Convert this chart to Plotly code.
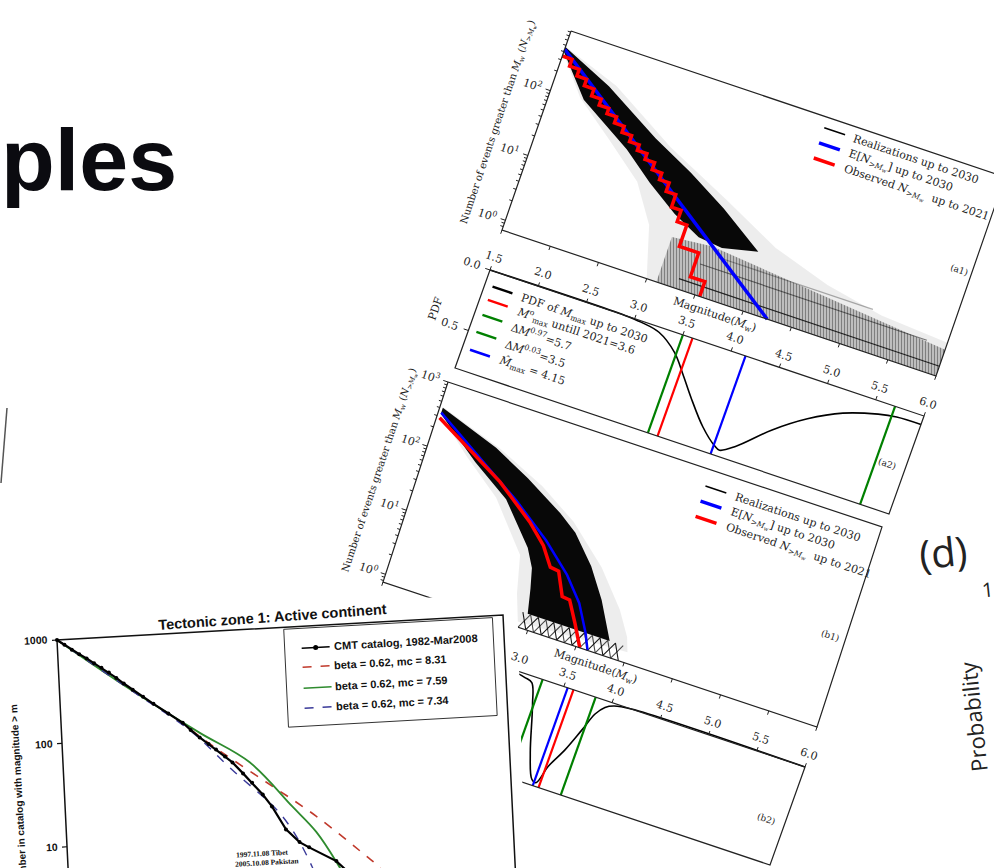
import math
import numpy as np
import plotly.graph_objects as go

CANVAS_W, CANVAS_H = 994, 868
SERIF = "DejaVu Serif"
SANS = "Liberation Sans"
TXT = "#222222"
AXC = "#222222"

# ---------------------------------------------------------------- shared magnitude axis
MAG_RANGE = [1.5, 6.0]
MAG_TICKS = [1.5, 2.0, 2.5, 3.0, 3.5, 4.0, 4.5, 5.0, 5.5, 6.0]

# ---------------------------------------------------------------- (a1) cumulative counts
A1_LOG = [2.92, -0.15]                       # log10 N at top / bottom edge
a1_expected_m = [1.5, 4.25]
a1_expected_n = [436, 0.708]
a1_obs_edges = [1.5, 1.6, 1.7, 1.8, 1.9, 2.0, 2.1, 2.2, 2.3, 2.4, 2.5, 2.6, 2.7,
                2.8, 2.9, 3.0, 3.1, 3.2, 3.4]
a1_obs_n = [342, 268, 212, 168, 132, 106, 88, 71, 57, 46, 38, 31, 24, 19, 14, 9,
            6, 2.8, 1.2]
a1_obs_last = 3.55
a1_core_up_m = [1.5, 2.03, 2.63, 3.07, 3.49, 3.77, 3.95]
a1_core_up_n = [470, 215, 68, 33, 15, 8, 5.5]
a1_core_lo_m = [1.5, 1.84, 2.40, 2.72, 3.05, 3.35, 3.6]
a1_core_lo_n = [400, 107, 35, 15.5, 7.5, 4.6, 4.2]
a1_halo_up_m = [1.5, 2.1, 2.8, 3.5, 4.1, 4.7, 5.3, 6.0]
a1_halo_up_n = [480, 235, 60, 20, 7.5, 4.0, 2.7, 2.3]
a1_halo_lo_m = [1.5, 1.8, 2.2, 2.6, 2.85, 3.0]
a1_halo_lo_n = [380, 110, 40, 14, 4, 0.708]
a1_band_top_m = [3.1, 3.5, 4.0, 4.5, 5.0, 5.5, 6.0]
a1_band_top_n = [3.5, 4.0, 3.4, 2.9, 2.5, 2.1, 1.8]
a1_rows_n = [1, 2, 3]
a1_rows_start = [3.3, 3.45, 3.6]
a1_rows_end = [6.0, 5.8, 5.2]

# ---------------------------------------------------------------- (a2) PDF of Mmax
A2_PDF = [0.0, 0.81]
a2_pdf_m = [1.5, 2.9, 3.07, 3.27, 3.48, 3.63, 3.78, 3.99, 4.16, 4.22, 4.36, 4.64,
            4.93, 5.24, 5.57, 5.75, 6.0]
a2_pdf_v = [0, 0, 0.01, 0.04, 0.15, 0.29, 0.44, 0.63, 0.74, 0.76, 0.69, 0.48,
            0.31, 0.18, 0.10, 0.075, 0.07]
a2_mobs, a2_q97, a2_q03, a2_mhat = 3.6, 5.7, 3.5, 4.15

# ---------------------------------------------------------------- (b1) cumulative counts
B1_LOG = [3.0, -0.12]
b1_expected_m = [1.53, 2.0, 2.5, 2.9, 3.2, 3.4, 3.55, 3.62]
b1_expected_n = [344, 130, 45, 17, 7, 3.2, 1.3, 0.76]
b1_obs_m = [1.53, 2.08, 2.29, 2.69, 2.89, 3.02, 3.11, 3.22, 3.30, 3.42, 3.54]
b1_obs_n = [287, 100, 69, 26, 14, 7.5, 7.2, 3.3, 3.2, 1.6, 0.76]
b1_core_up_m = [1.53, 2.15, 2.54, 2.95, 3.15, 3.4, 3.6, 3.72, 3.8]
b1_core_up_n = [410, 200, 105, 48, 30, 12, 4.5, 2.2, 1.3]
b1_core_lo_m = [1.53, 2.0, 2.4, 2.75, 2.85, 2.9, 2.95]
b1_core_lo_n = [330, 100, 42, 11, 6, 3, 1.3]
b1_halo_up_m = [1.53, 2.2, 2.7, 3.1, 3.5, 3.8, 3.95, 4.0]
b1_halo_up_n = [420, 200, 95, 42, 13, 4, 1.8, 1.1]
b1_halo_lo_m = [1.53, 1.9, 2.3, 2.7, 2.85]
b1_halo_lo_n = [320, 110, 40, 8, 0.9]
b1_tail_m = [2.90, 2.98, 3.06, 3.14, 3.22, 3.30, 3.38, 3.46, 3.54, 3.62, 3.70,
             3.78, 3.86, 3.94]
b1_tail_top = 1.3

# ---------------------------------------------------------------- (b2) PDF of Mmax
B2_PDF = [0.0, 3.2]
b2_pdf_m = [1.5, 2.9, 3.0, 3.11, 3.19, 3.27, 3.41, 3.51, 3.56, 3.62, 3.72, 3.81,
            3.88, 3.95, 4.03, 4.2, 6.0]
b2_pdf_v = [0, 0, 0.05, 0.12, 0.2, 0.84, 2.28, 3.02, 3.08, 2.48, 1.84, 1.10, 0.5,
            0.21, 0.08, 0, 0]
b2_q03, b2_mhat, b2_mobs, b2_q97 = 3.28, 3.54, 3.60, 3.83

# ---------------------------------------------------------------- tectonic zone 1 chart
TZ_M_RANGE = [5.8, 8.913]
TZ_LOG = [3.0, 0.488]
TZ_TICKS = [1000, 100, 10]
cmt_m = [5.8, 5.85, 5.9, 5.95, 6.0, 6.05, 6.1, 6.15, 6.2, 6.25, 6.31, 6.38, 6.45,
         6.55, 6.647, 6.7, 6.76, 6.82, 6.87, 6.93, 6.98, 7.05, 7.11, 7.18, 7.24,
         7.33, 7.42, 7.485, 7.67, 7.75, 7.8, 7.9]
cmt_n = [1000, 890, 790, 710, 640, 570, 510, 455, 400, 350, 301, 255, 215, 170,
         136, 115, 96, 82, 72, 61, 53, 41, 33, 25, 19, 11.2, 8.3, 7.3, 5.2, 4, 3, 2]
fit_831_m = [5.8, 6.3, 6.6, 6.87, 7.21, 7.544, 7.88, 7.96, 8.1, 8.2]
fit_831_n = [1000, 300, 150, 74, 32.7, 14.5, 5.6, 4.4, 2.5, 1.5]
fit_759_m = [5.8, 6.3, 6.76, 7.1, 7.38, 7.54, 7.67, 7.8, 7.9]
fit_759_n = [1000, 300, 107, 52, 18.6, 10.2, 5.1, 2.2, 0.8]
fit_734_m = [5.8, 6.3, 6.7, 6.975, 7.31, 7.5, 7.6]
fit_734_n = [1000, 298, 112, 45, 15, 4.7, 1.5]


# ================================================================ geometry helpers
class Frame:
    """Plot box placed on the page by three corners (top-left, top-right, bottom-left)."""

    def __init__(self, tl, tr, bl, xr, yr, ylog=False):
        self.o = np.array(tl, float)
        self.vx = np.array(tr, float) - self.o
        self.vy = np.array(bl, float) - self.o
        self.ux = self.vx / np.hypot(*self.vx)
        self.uy = self.vy / np.hypot(*self.vy)
        self.xr, self.yr, self.ylog = xr, yr, ylog
        self.angle = math.degrees(math.atan2(self.ux[1], self.ux[0]))

    def st(self, x, y):
        s = (x - self.xr[0]) / (self.xr[1] - self.xr[0])
        yy = math.log10(y) if self.ylog else y
        t = (yy - self.yr[0]) / (self.yr[1] - self.yr[0])
        return s, t

    def at(self, s, t, du=0.0, dv=0.0):
        p = self.o + s * self.vx + t * self.vy + du * self.ux + dv * self.uy
        return float(p[0]), float(p[1])

    def pt(self, x, y, du=0.0, dv=0.0):
        s, t = self.st(x, y)
        return self.at(s, t, du, dv)

    def path(self, xs, ys):
        pts = [self.pt(x, y) for x, y in zip(xs, ys)]
        return [p[0] for p in pts], [p[1] for p in pts]


fig = go.Figure()
annotations = []

# white page region of the tectonic-zone picture, which lies on top of panels (b1)/(b2)
OCCLUDER = [(-10, 621), (517, 593), (525, 880), (-10, 880)]


def inside(p, poly):
    x, y = p
    res = False
    n = len(poly)
    for i in range(n):
        x1, y1 = poly[i]
        x2, y2 = poly[(i + 1) % n]
        if (y1 > y) != (y2 > y):
            xc = x1 + (y - y1) * (x2 - x1) / (y2 - y1)
            if x < xc:
                res = not res
    return res


def add_line(xs, ys, color, width, dash=None, opacity=1.0, shape="linear"):
    fig.add_trace(go.Scatter(x=xs, y=ys, mode="lines",
                             line=dict(color=color, width=width, dash=dash, shape=shape),
                             opacity=opacity, hoverinfo="skip", showlegend=False))


def add_poly(xs, ys, fillcolor, pattern=None):
    kw = dict(x=list(xs) + [xs[0]], y=list(ys) + [ys[0]], mode="lines",
              line=dict(width=0, color="rgba(0,0,0,0)"), fill="toself",
              fillcolor=fillcolor, hoverinfo="skip", showlegend=False)
    if pattern is not None:
        kw["fillpattern"] = pattern
    fig.add_trace(go.Scatter(**kw))


def add_segs(segs, color, width, opacity=1.0):
    xs, ys = [], []
    for p, q in segs:
        xs += [p[0], q[0], None]
        ys += [p[1], q[1], None]
    add_line(xs, ys, color, width, opacity=opacity)


def note(p, text, size, angle=0.0, family=SERIF, color=TXT, xanchor="center",
         yanchor="middle", weight="normal", check=True):
    if check and inside(p, OCCLUDER):
        return
    annotations.append(dict(x=p[0], y=p[1], xref="x", yref="y", text=text,
                            showarrow=False, textangle=angle, xanchor=xanchor,
                            yanchor=yanchor, borderpad=0,
                            font=dict(family=family, size=size, color=color,
                                      weight=weight)))


def note_left(p, text, size, angle, family=SERIF, color=TXT, weight="normal", check=True):
    """Left-aligned rotated text that starts at point p (vertical middle of the line)."""
    h = size * 1.25
    phi = math.radians(angle)
    x = p[0] - 0.5 * h * abs(math.sin(phi))
    if angle >= 0:
        y, ya = p[1] - 0.5 * h * math.cos(phi), "top"
    else:
        y, ya = p[1] + 0.5 * h * math.cos(phi), "bottom"
    note((x, y), text, size, angle, family, color, "left", ya, weight, check=check)


def box(frame, color=AXC, width=1.2):
    c = [frame.at(0, 0), frame.at(1, 0), frame.at(1, 1), frame.at(0, 1), frame.at(0, 0)]
    add_line([p[0] for p in c], [p[1] for p in c], color, width)


def staircase(edges, counts, last_edge, floor):
    xs, ys = [edges[0]], [counts[0]]
    for i in range(1, len(edges)):
        xs += [edges[i], edges[i]]
        ys += [counts[i - 1], counts[i]]
    xs += [last_edge, last_edge]
    ys += [counts[-1], floor]
    return xs, ys


def log_ticks(frame, lo, hi):
    segs = []
    for k in range(-1, 4):
        for j in range(1, 10):
            v = j * 10 ** k
            if lo <= math.log10(v) <= hi:
                ln = 5 if j == 1 else 3
                segs.append((frame.pt(MAG_RANGE[0], v), frame.pt(MAG_RANGE[0], v, du=-ln)))
    return segs


# ================================================================ panel placement
A1 = Frame((571, 31), (1005, 177), (502, 230), MAG_RANGE, A1_LOG, ylog=True)
A2 = Frame((490, 270), (924, 416), (455, 368), MAG_RANGE, A2_PDF)
B1 = Frame((448, 382), (882, 527), (383, 582), MAG_RANGE, B1_LOG, ylog=True)
B2 = Frame((371, 622), (805, 767), (336, 720), MAG_RANGE, B2_PDF)
TZ = Frame((57, 640), (503, 615), (69.6, 899.7), TZ_M_RANGE, TZ_LOG, ylog=True)

RED, BLUE, GREEN = "#ff0000", "#0000ff", "#008000"
ylabel_cnt = ("Number of events greater than <i>M</i><sub>w</sub> "
              "(<i>N</i><sub>&gt;<i>M</i><sub>w</sub></sub>)")
xlabel_mag = "Magnitude(<i>M</i><sub>w</sub>)"


def magnitude_axes(top, bottom, name_top, name_bottom, pos_top, pos_bottom):
    """Shared magnitude ticks between a count panel (top) and a PDF panel (bottom)."""
    segs = []
    for m in MAG_TICKS:
        s, _ = top.st(m, 1.0)
        segs.append((top.at(s, 1), top.at(s, 1, dv=4)))
        segs.append((bottom.at(s, 0), bottom.at(s, 0, dv=-4)))
        note(bottom.at(s, 0, dv=-13), f"{m:.1f}", 11, bottom.angle)
    add_segs(segs, AXC, 1)
    note(top.pt(3.75, 10 ** top.yr[1], dv=13), xlabel_mag, 11, top.angle)
    note(top.at(*pos_top), name_top, 9, top.angle)
    note(bottom.at(*pos_bottom), name_bottom, 9, bottom.angle)


# ================================================================ (a1)
bot_a1 = 10 ** A1_LOG[1]
hx, hy = A1.path(a1_halo_up_m + [MAG_RANGE[1]] + a1_halo_lo_m[::-1],
                 a1_halo_up_n + [bot_a1] + a1_halo_lo_n[::-1])
add_poly(hx, hy, "rgba(0,0,0,0.07)")
bx, by = A1.path([a1_band_top_m[0]] + a1_band_top_m + [MAG_RANGE[1]],
                 [bot_a1] + a1_band_top_n + [bot_a1])
add_poly(bx, by, "rgba(0,0,0,0.14)",
         dict(shape="|", size=3, solidity=0.45, fgcolor="rgba(0,0,0,0.75)",
              fillmode="overlay"))
for n, m0, m1, op in zip(a1_rows_n, a1_rows_start, a1_rows_end, [0.8, 0.5, 0.3]):
    rx, ry = A1.path([m0, m1], [n, n])
    add_line(rx, ry, "black", 1.2, opacity=op)
cx, cy = A1.path(a1_core_up_m + a1_core_lo_m[::-1], a1_core_up_n + a1_core_lo_n[::-1])
add_poly(cx, cy, "rgba(0,0,0,0.97)")
ex_, ey_ = A1.path(a1_expected_m, a1_expected_n)
add_line(ex_, ey_, BLUE, 3.5)
sx, sy = staircase(a1_obs_edges, a1_obs_n, a1_obs_last, bot_a1)
ox, oy = A1.path(sx, sy)
add_line(ox, oy, RED, 3.5)
box(A1)
add_segs(log_ticks(A1, A1_LOG[1], A1_LOG[0]), AXC, 1)
for k in [0, 1, 2]:
    note(A1.pt(MAG_RANGE[0], 10 ** k, du=-19), f"10<sup>{k}</sup>", 11, A1.angle)
note(A1.at(0, 0.52, du=-38), ylabel_cnt, 10, A1.angle - 90)

legend_a = [("black", 1.5, "Realizations up to 2030"),
            (BLUE, 3.5, "E[<i>N</i><sub>&gt;<i>M</i><sub>w</sub></sub>] up to 2030"),
            (RED, 3.5, "Observed <i>N</i><sub>&gt;<i>M</i><sub>w</sub></sub>  up to 2021")]


def count_legend(frame, rows, u0):
    for (col, wid, label), v in zip(legend_a, rows):
        p0, p1 = frame.at(0, 0, du=u0, dv=v), frame.at(0, 0, du=u0 + 22, dv=v)
        add_line([p0[0], p1[0]], [p0[1], p1[1]], col, wid)
        note_left(frame.at(0, 0, du=u0 + 30, dv=v), label, 11, frame.angle)


count_legend(A1, [11, 27, 43], 271)

# ================================================================ (a2)
px_, py_ = A2.path(a2_pdf_m, a2_pdf_v)
add_line(px_, py_, "black", 1.6, shape="spline")
for m, col in [(a2_q03, GREEN), (a2_mobs, RED), (a2_mhat, BLUE), (a2_q97, GREEN)]:
    s, _ = A2.st(m, 0)
    p0, p1 = A2.at(s, 0), A2.at(s, 1)
    add_line([p0[0], p1[0]], [p0[1], p1[1]], col, 2.2)
box(A2)
pdf_segs = []
for v in [0.0, 0.5]:
    pdf_segs.append((A2.pt(MAG_RANGE[0], v), A2.pt(MAG_RANGE[0], v, du=-5)))
    note(A2.pt(MAG_RANGE[0], v, du=-19), f"{v:.1f}", 11, A2.angle)
add_segs(pdf_segs, AXC, 1)
note(A2.at(0, 0.52, du=-38), "PDF", 11, A2.angle - 90)
legend_pdf = [("black", "PDF of <i>M</i><sub>max</sub> up to 2030"),
              (RED, "<i>M</i><sup>o</sup><sub>max</sub> untill 2021=3.6"),
              (GREEN, "Δ<i>M</i><sup>0.97</sup>=5.7"),
              (GREEN, "Δ<i>M</i><sup>0.03</sup>=3.5"),
              (BLUE, "<i>M̂</i><sub>max</sub> = 4.15")]
for (col, label), v in zip(legend_pdf, [15, 29, 45, 63, 82]):
    p0, p1 = A2.at(0, 0, du=8, dv=v), A2.at(0, 0, du=29, dv=v)
    add_line([p0[0], p1[0]], [p0[1], p1[1]], col, 2.5)
    note_left(A2.at(0, 0, du=37, dv=v), label, 11, A2.angle)
magnitude_axes(A1, A2, "(a1)", "(a2)", (0.972, 0.49), (0.96, 0.55))

# ================================================================ (b1)
bot_b1 = 10 ** B1_LOG[1]
hx, hy = B1.path(b1_halo_up_m + b1_halo_lo_m[::-1], b1_halo_up_n + b1_halo_lo_n[::-1])
add_poly(hx, hy, "rgba(0,0,0,0.07)")
cx, cy = B1.path(b1_core_up_m + b1_core_lo_m[::-1], b1_core_up_n + b1_core_lo_n[::-1])
add_poly(cx, cy, "rgba(0,0,0,0.97)")
for phase, op in [(0, 0.9), (1, 0.7)]:
    zn = [b1_tail_top if (i + phase) % 2 == 0 else bot_b1 for i in range(len(b1_tail_m))]
    zx, zy = B1.path(b1_tail_m, zn)
    add_line(zx, zy, "black", 1.1, opacity=op)
ex_, ey_ = B1.path(b1_expected_m, b1_expected_n)
add_line(ex_, ey_, BLUE, 2.5)
ox, oy = B1.path(b1_obs_m, b1_obs_n)
add_line(ox, oy, RED, 3.5)
box(B1)
add_segs(log_ticks(B1, B1_LOG[1], B1_LOG[0]), AXC, 1)
for k in [0, 1, 2, 3]:
    note(B1.pt(MAG_RANGE[0], 10 ** k, du=-18), f"10<sup>{k}</sup>", 11, B1.angle)
note(B1.at(0, 0.5, du=-37), ylabel_cnt, 10, B1.angle - 90)
count_legend(B1, [17, 33, 49], 277)

# ================================================================ (b2)
px_, py_ = B2.path(b2_pdf_m, b2_pdf_v)
add_line(px_, py_, "black", 1.6, shape="spline")
for m, col in [(b2_q03, GREEN), (b2_mhat, BLUE), (b2_mobs, RED), (b2_q97, GREEN)]:
    s, _ = B2.st(m, 0)
    p0, p1 = B2.at(s, 0), B2.at(s, 1)
    add_line([p0[0], p1[0]], [p0[1], p1[1]], col, 2.2)
box(B2)
magnitude_axes(B1, B2, "(b1)", "(b2)", (0.967, 0.567), (0.958, 0.59))

# ================================================================ tectonic zone picture
add_poly([p[0] for p in OCCLUDER], [p[1] for p in OCCLUDER], "white")
TZ_RED, TZ_GREEN, TZ_BLUE = "#c0392b", "#2e8b2e", "#3a3a99"
c = [TZ.at(0, 1), TZ.at(0, 0), TZ.at(1, 0), TZ.at(1, 1)]
add_line([p[0] for p in c], [p[1] for p in c], "#111111", 1.5)
tz_segs = []
for n in TZ_TICKS:
    tz_segs.append((TZ.pt(TZ_M_RANGE[0], n), TZ.pt(TZ_M_RANGE[0], n, du=-5)))
    note(TZ.pt(TZ_M_RANGE[0], n, du=-8), f"{n}", 10.5, TZ.angle, SANS, "#111111",
         xanchor="right", weight="bold", check=False)
add_segs(tz_segs, "#111111", 1.2)

for xs, ys, col, dash, wid in [(fit_831_m, fit_831_n, TZ_RED, "dash", 1.6),
                               (fit_759_m, fit_759_n, TZ_GREEN, None, 1.8),
                               (fit_734_m, fit_734_n, TZ_BLUE, "dash", 1.4)]:
    fx, fy = TZ.path(xs, ys)
    add_line(fx, fy, col, wid, dash=dash, shape="spline")
kx, ky = TZ.path(cmt_m, cmt_n)
fig.add_trace(go.Scatter(x=kx, y=ky, mode="lines+markers",
                         line=dict(color="black", width=2.2),
                         marker=dict(color="black", size=4),
                         hoverinfo="skip", showlegend=False))

lb = [TZ.at(0, 0, du=227, dv=2), TZ.at(0, 0, du=436, dv=2), TZ.at(0, 0, du=436, dv=100),
      TZ.at(0, 0, du=227, dv=100), TZ.at(0, 0, du=227, dv=2)]
add_poly([p[0] for p in lb[:4]], [p[1] for p in lb[:4]], "white")
add_line([p[0] for p in lb], [p[1] for p in lb], "#333333", 1)
tz_legend = [("black", None, "CMT catalog, 1982-Mar2008"),
             (TZ_RED, "dash", "beta = 0.62, mc = 8.31"),
             (TZ_GREEN, None, "beta = 0.62, mc = 7.59"),
             (TZ_BLUE, "dash", "beta = 0.62, mc = 7.34")]
for (col, dash, label), v in zip(tz_legend, [22, 41, 62, 82]):
    p0, p1 = TZ.at(0, 0, du=244, dv=v), TZ.at(0, 0, du=272, dv=v)
    add_line([p0[0], p1[0]], [p0[1], p1[1]], col, 1.6, dash=dash)
    if dash is None and col == "black":
        pm = TZ.at(0, 0, du=258, dv=v)
        fig.add_trace(go.Scatter(x=[pm[0]], y=[pm[1]], mode="markers",
                                 marker=dict(color="black", size=5),
                                 hoverinfo="skip", showlegend=False))
    note_left(TZ.at(0, 0, du=275, dv=v), label, 11, TZ.angle, SANS, "#111111",
              weight="bold", check=False)
note(TZ.at(0, 0, du=216, dv=-11), "Tectonic zone 1: Active continent", 14.5,
     TZ.angle - 0.8, SANS, "#111111", weight="bold", check=False)
note(TZ.at(0, 0, du=-46, dv=153), "Number in catalog with magnitude &gt; m", 10,
     TZ.angle - 90, SANS, "#111111", weight="bold", check=False)
note(TZ.at(0, 0, du=195, dv=225), "1997.11.08 Tibet", 7.5, TZ.angle,
     "Liberation Serif", "#111111", weight="bold", check=False)
note(TZ.at(0, 0, du=199, dv=234), "2005.10.08 Pakistan", 7.5, TZ.angle,
     "Liberation Serif", "#111111", weight="bold", check=False)

# ================================================================ edge of a neighbouring picture
add_line([7, 1], [408, 483], "#555555", 1.5)

# ================================================================ (d) picture
note((943, 551), "(d)", 40, -6, "Open Sans", "#222222", check=False)
note((973, 717), "Probability", 22, -96, "Open Sans", "#222222", check=False)
note((987, 589), "1", 20, -6, "Open Sans", "#222222", check=False)

# ================================================================ slide title fragment
note((0, 159.5), "ples", 88, 0, "Liberation Sans", "#0b0b10", xanchor="left",
     weight="bold", check=False)

fig.update_layout(
    width=CANVAS_W, height=CANVAS_H,
    margin=dict(l=0, r=0, t=0, b=0),
    paper_bgcolor="white", plot_bgcolor="white",
    xaxis=dict(range=[0, CANVAS_W], visible=False, fixedrange=True),
    yaxis=dict(range=[CANVAS_H, 0], visible=False, fixedrange=True),
    showlegend=False,
    annotations=annotations,
)
fig.write_html("out.html")
